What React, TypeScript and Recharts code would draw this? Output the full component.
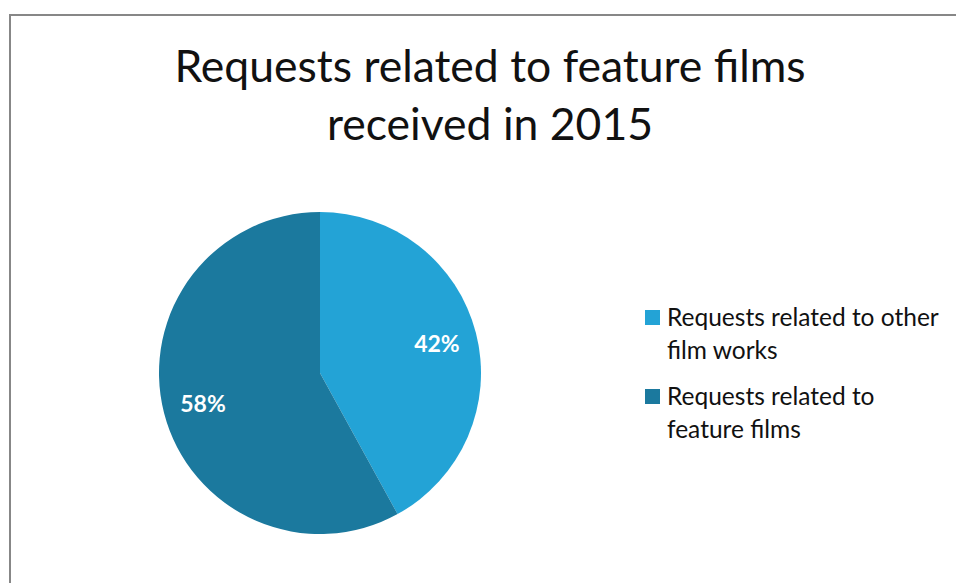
import { PieChart, Pie, Cell, Legend } from 'recharts';

const categories = ['Requests related to other film works', 'Requests related to feature films'];
const shares = [42, 58];
const COLORS = ['#23a3d6', '#1b799e'];

const data = categories.map((name, i) => ({ name, value: shares[i] }));

const FONT = 'Lato, "Open Sans", sans-serif';
const RADIAN = Math.PI / 180;

function renderLabel(props: any) {
  const { cx, cy, midAngle, outerRadius, value } = props;
  const r = outerRadius * 0.75;
  const x = cx + r * Math.cos(-midAngle * RADIAN);
  const y = cy + r * Math.sin(-midAngle * RADIAN);
  return (
    <text x={x} y={y} fill="#fff" fontSize={23} fontWeight={700} fontFamily={FONT} textAnchor="middle" dominantBaseline="central">
      {value}%
    </text>
  );
}

function LegendBox() {
  return (
    <div style={{ fontFamily: FONT, fontSize: 24.5, color: '#111', width: 300, lineHeight: '33px' }}>
      {data.map((d, i) => (
        <div key={d.name} style={{ display: 'flex', alignItems: 'flex-start', marginBottom: 13 }}>
          <span style={{ width: 15, height: 15, background: COLORS[i], marginTop: 10, marginRight: 7, flexShrink: 0 }} />
          <span style={{ width: 282 }}>{d.name}</span>
        </div>
      ))}
    </div>
  );
}

export default function App() {
  return (
    <div style={{ position: 'absolute', left: 0, top: 0, width: 956, height: 583, overflow: 'hidden', background: '#fff' }}>
      <div style={{ position: 'absolute', left: 9, top: 14, width: 1000, height: 700, border: '2px solid #878787' }} />
      <div style={{ position: 'absolute', left: 0, top: 36, width: 980, textAlign: 'center', fontFamily: FONT, fontSize: 44.5, lineHeight: '58px', color: '#111' }}>
        Requests related to feature films<br />received in 2015
      </div>
      <div style={{ position: 'absolute', left: 0, top: 0 }}>
        <PieChart width={956} height={583} margin={{ top: 0, right: 0, bottom: 0, left: 0 }}>
          <Pie
            data={data}
            dataKey="value"
            cx={320}
            cy={373}
            outerRadius={161}
            startAngle={90}
            endAngle={-270}
            stroke="none"
            label={renderLabel}
            labelLine={false}
            isAnimationActive={false}
          >
            {data.map((d, i) => (
              <Cell key={d.name} fill={COLORS[i]} />
            ))}
          </Pie>
          <Legend
            layout="vertical"
            content={() => <LegendBox />}
            wrapperStyle={{ left: 645, top: 300, width: 310 }}
          />
        </PieChart>
      </div>
    </div>
  );
}
